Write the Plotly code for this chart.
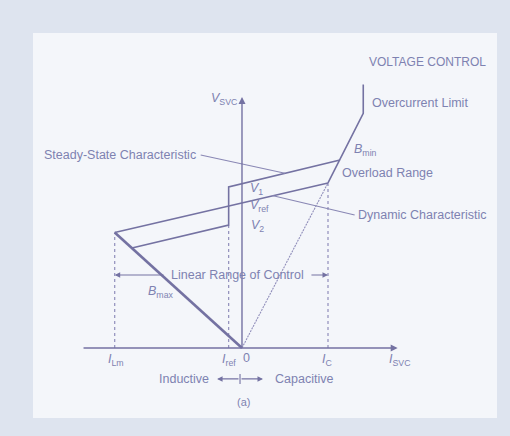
import plotly.graph_objects as go

# ---- operating points of the SVC V-I characteristic (per-unit style units) ----
I_LM = -1.48      # maximum inductive current
I_REF = -0.155    # reference current
I_C = 1.0         # maximum capacitive current (linear range limit)
I_OC = 1.41       # overcurrent limit

# lower characteristic through V_ref (from inductive limit to capacitive limit)
lower_I = [I_LM, I_C]
lower_V = [0.78, 1.115]

# shifted characteristic with the step at I_ref
step_I = [-1.28, I_REF, I_REF, 1.14]
step_V = [0.675, 0.83, 1.088, 1.27]

# inductive susceptance limit (B_max) from the origin
bmax_I = [0.0, I_LM]
bmax_V = [0.0, 0.78]

# capacitive susceptance line (B_min): dotted inside linear range, solid in overload range
bmin_lin_I = [0.0, I_C]
bmin_lin_V = [0.0, 1.115]
bmin_ovl_I = [I_C, I_OC, I_OC]
bmin_ovl_V = [1.115, 1.585, 1.78]

# dashed projections to the current axis
proj_I = [I_LM, I_REF, I_C]
proj_V = [0.78, 0.83, 1.115]

# leader lines for the characteristic labels
ss_lead_I = [-0.48, 0.50]
ss_lead_V = [1.304, 1.18]
dyn_lead_I = [0.35, 1.31]
dyn_lead_V = [1.03, 0.899]

LINE = "#7472a2"
TEXT = "#7e82b1"
FONT = "Liberation Sans, Arial, sans-serif"

fig = go.Figure()

def seg(xs, ys, width=1.6, dash="solid", color=LINE):
    fig.add_trace(go.Scatter(x=xs, y=ys, mode="lines", hoverinfo="skip",
                             line=dict(color=color, width=width, dash=dash),
                             showlegend=False))

# projections
for i, v in zip(proj_I, proj_V):
    seg([i, i], [0, v], width=1.2, dash="3px,3px", color="#908ebb")

seg(bmin_lin_I, bmin_lin_V, width=1.1, dash="2px,1px", color="#918fbb")
seg(bmax_I, bmax_V, width=2.6)
seg(lower_I, lower_V, width=1.6)
seg(step_I, step_V, width=1.6)
seg(bmin_ovl_I, bmin_ovl_V, width=1.6)
seg(ss_lead_I, ss_lead_V, width=1.1, color="#8987b4")
seg(dyn_lead_I, dyn_lead_V, width=1.1, color="#8987b4")

annotations = []

def arrow(x_head, y_head, x_tail, y_tail, width=1.3, size=1.0):
    annotations.append(dict(x=x_head, y=y_head, ax=x_tail, ay=y_tail,
                            xref="x", yref="y", axref="x", ayref="y",
                            text="", showarrow=True, arrowhead=2,
                            arrowsize=size, arrowwidth=width, arrowcolor=LINE))

# coordinate axes
arrow(1.81, 0.0, -1.86, 0.0, width=1.4)
arrow(0.0, 1.696, 0.0, 0.0, width=1.4)

# linear range of control
arrow(I_LM, 0.493, -0.895, 0.493, width=1.1)
arrow(I_C, 0.493, 0.79, 0.493, width=1.1)

# inductive / capacitive direction marks
arrow(-0.29, -0.209, -0.023, -0.209, width=1.1)
arrow(0.244, -0.209, -0.023, -0.209, width=1.1)
seg([-0.023, -0.023], [-0.176, -0.243], width=1.1)

def label(x, y, text, anchor="left", size=12.5):
    annotations.append(dict(x=x, y=y, xref="x", yref="y", text=text,
                            showarrow=False, xanchor=anchor, yanchor="middle",
                            font=dict(family=FONT, size=size, color=TEXT)))

label(2.86, 1.932, "VOLTAGE CONTROL", anchor="right", size=12)
label(-0.04, 1.68, "<i>V</i><sub>SVC</sub>", anchor="right")
label(1.488, 1.655, "Overcurrent Limit")
label(-2.326, 1.304, "Steady-State Characteristic")
label(1.279, 1.338, "<i>B</i><sub>min</sub>")
label(1.14, 1.182, "Overload Range")
label(0.07, 1.074, "<i>V</i><sub>1</sub>")
label(0.07, 0.959, "<i>V</i><sub>ref</sub>")
label(0.08, 0.824, "<i>V</i><sub>2</sub>")
label(1.326, 0.899, "Dynamic Characteristic")
label(-0.047, 0.493, "Linear Range of Control", anchor="center")
label(-1.116, 0.378, "<i>B</i><sub>max</sub>")
label(-1.465, -0.081, "<i>I</i><sub>Lm</sub>", anchor="center")
label(-0.151, -0.081, "<i>I</i><sub>ref</sub>", anchor="center")
label(0.047, -0.068, "0", anchor="center")
label(0.99, -0.081, "<i>I</i><sub>C</sub>", anchor="center")
label(1.837, -0.081, "<i>I</i><sub>SVC</sub>", anchor="center")
label(-0.674, -0.209, "Inductive", anchor="center")
label(0.721, -0.209, "Capacitive", anchor="center")
label(0.012, -0.365, "(a)", anchor="center", size=11)

fig.update_layout(
    width=510, height=436,
    margin=dict(l=33, r=13, t=33, b=18),
    paper_bgcolor="#dee4ef",
    plot_bgcolor="#f4f6fa",
    annotations=annotations,
    xaxis=dict(range=[-2.430, 2.965], visible=False, fixedrange=True),
    yaxis=dict(range=[-0.473, 2.128], visible=False, fixedrange=True),
)

fig.write_html("out.html", config={"displayModeBar": False})
